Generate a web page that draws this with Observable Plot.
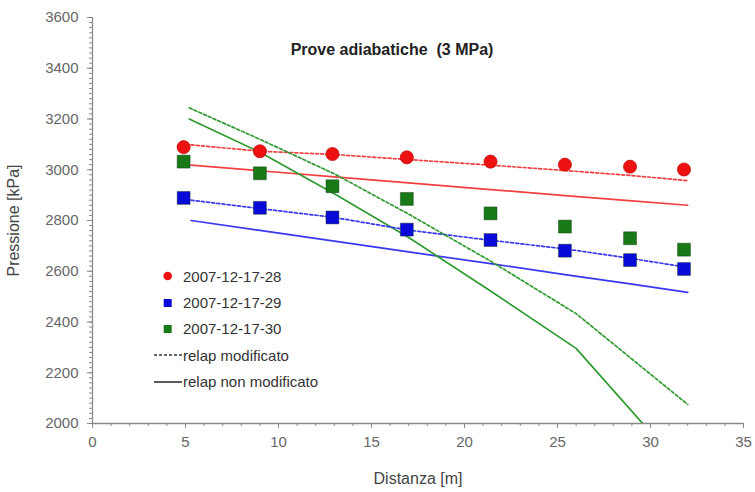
<!DOCTYPE html>
<html>
<head>
<meta charset="utf-8">
<script src="https://cdn.jsdelivr.net/npm/d3@7"></script>
<script src="https://cdn.jsdelivr.net/npm/@observablehq/plot@0.6"></script>
<style>
  body { margin: 0; background: #fff; }
  #grafico { position: relative; width: 755px; height: 492px; font-family: "Liberation Sans", Arial, sans-serif; }
  #titolo { position: absolute; left: 0; top: 41px; width: 784px; text-align: center; font-weight: bold;
            font-size: 16px; color: #222; white-space: pre; }
  #legenda { position: absolute; left: 150px; top: 263px; font-size: 15px; color: #333; }
  #legenda .voce { display: flex; align-items: center; height: 26.4px; }
  #legenda svg { width: 33px; height: 26px; flex: none; }
</style>
</head>
<body>
<div id="grafico">
  <div id="titolo"></div>
  <div id="legenda"></div>
</div>
<script>
// Prove adiabatiche a 3 MPa: pressione misurata lungo il condotto e calcoli RELAP
const titolo = "Prove adiabatiche  (3 MPa)";
const etichettaX = "Distanza [m]";
const etichettaY = "Pressione [kPa]";
const tickX = [0, 5, 10, 15, 20, 25, 30, 35];
const tickY = [2000, 2200, 2400, 2600, 2800, 3000, 3200, 3400, 3600];

// Misure sperimentali (posizione dei trasduttori)
const distanzaMisure = [4.9, 9.0, 12.9, 16.9, 21.4, 25.4, 28.9, 31.8];
const misure28 = [3089, 3073, 3062, 3049, 3032, 3020, 3012, 3001];
const misure29 = [2889, 2850, 2812, 2764, 2723, 2681, 2644, 2609];
const misure30 = [3032, 2986, 2935, 2885, 2828, 2776, 2730, 2685];

// Calcoli RELAP
const distanzaRelap = [5.3, 9, 13, 17, 21.4, 25.4, 29, 32];
const relapMod28 = [3098, 3073, 3060, 3040, 3018, 2997, 2977, 2957];
const relapMod29 = [2880, 2847, 2812, 2762, 2722, 2688, 2650, 2615];
const relapNonMod28 = [3018, 2996, 2972, 2948, 2922, 2898, 2877, 2860];
const relapNonMod29 = [2800, 2761, 2719, 2676, 2630, 2587, 2549, 2517];
const distanzaRelap30 = [5.2, 9, 13, 17, 21.4, 26, 32];
const relapMod30 = [3244, 3120, 2984, 2825, 2640, 2433, 2075];
const relapNonMod30 = [3200, 3069, 2905, 2733, 2522, 2296, 1800];

const prove = ["2007-12-17-28", "2007-12-17-29", "2007-12-17-30"];
const coloriPunti = ["#ee1111", "#0a0ad8", "#177a17"];
const coloriLinee = ["#f24040", "#3838ee", "#2f9a2f"];
const simboli = ["circle", "square", "square"];
const tipiLinea = ["relap modificato", "relap non modificato"];

const tabella = (xs, ys, i) => xs.map((x, k) => ({x, y: ys[k], i}));
const puntiMisura = [misure28, misure29, misure30].flatMap((ys, i) => tabella(distanzaMisure, ys, i));
const lineeMod = [
  tabella(distanzaRelap, relapMod28, 0),
  tabella(distanzaRelap, relapMod29, 1),
  tabella(distanzaRelap30, relapMod30, 2)
];
const lineeNonMod = [
  tabella(distanzaRelap, relapNonMod28, 0),
  tabella(distanzaRelap, relapNonMod29, 1),
  tabella(distanzaRelap30, relapNonMod30, 2)
];

const grigioAssi = "#8a8a8a";
const testoAssi = "#666";
const intero = d3.format("d");

const grafico = Plot.plot({
  width: 755,
  height: 492,
  marginLeft: 92,
  marginRight: 12,
  marginTop: 17,
  marginBottom: 69,
  style: {fontFamily: "Liberation Sans, Arial, sans-serif", fontSize: "15px", background: "transparent"},
  x: {domain: [0, 35]},
  y: {domain: [2000, 3600]},
  marks: [
    // tacche secondarie e principali
    Plot.axisX({ticks: d3.range(0, 36, 1), tickSize: 3, tickFormat: () => "", stroke: grigioAssi, label: null}),
    Plot.axisY({ticks: d3.range(2000, 3601, 20), tickSize: 3, tickFormat: () => "", stroke: grigioAssi, label: null}),
    Plot.axisX({ticks: tickX, tickSize: 5, tickPadding: 8, tickFormat: intero, stroke: grigioAssi, fill: testoAssi, label: null}),
    Plot.axisY({ticks: tickY, tickSize: 5, tickPadding: 9, tickFormat: intero, stroke: grigioAssi, fill: testoAssi, label: null}),
    Plot.ruleX([0], {stroke: grigioAssi, strokeWidth: 1.3}),
    Plot.ruleY([2000], {stroke: grigioAssi, strokeWidth: 1.3}),
    Plot.text([etichettaY], {frameAnchor: "left", dx: -79, rotate: -90, textAnchor: "middle", lineAnchor: "middle",
                              fontSize: 16, fill: "#444"}),
    Plot.text([etichettaX], {frameAnchor: "bottom", dy: 55, textAnchor: "middle", lineAnchor: "middle",
                             fontSize: 16, fill: "#444"}),
    // calcoli
    ...lineeNonMod.map(d => Plot.line(d, {x: "x", y: "y", stroke: coloriLinee[d[0].i], strokeWidth: 1.7, clip: true})),
    ...lineeMod.map(d => Plot.line(d, {x: "x", y: "y", stroke: coloriLinee[d[0].i], strokeWidth: 1.7,
                                      strokeDasharray: "3,2.2", clip: true})),
    // misure
    Plot.dot(puntiMisura.filter(d => simboli[d.i] === "circle"), {
      x: "x", y: "y", r: 6.6, symbol: "circle", fill: d => coloriPunti[d.i], stroke: "#b00000", strokeWidth: 0.6
    }),
    Plot.dot(puntiMisura.filter(d => simboli[d.i] === "square"), {
      x: "x", y: "y", r: 7.3, symbol: "square", fill: d => coloriPunti[d.i], stroke: "#0b2b0b", strokeOpacity: 0.5, strokeWidth: 0.8
    })
  ]
});
document.getElementById("grafico").prepend(grafico);
document.getElementById("titolo").textContent = titolo;

// legenda
const legenda = d3.select("#legenda");
prove.forEach((nome, i) => {
  const voce = legenda.append("div").attr("class", "voce");
  const s = voce.append("svg");
  if (simboli[i] === "circle") s.append("circle").attr("cx", 17.7).attr("cy", 13).attr("r", 4.3).attr("fill", coloriPunti[i]);
  else s.append("rect").attr("x", 13.7).attr("y", 9).attr("width", 8).attr("height", 8).attr("fill", coloriPunti[i]);
  voce.append("span").text(nome);
});
tipiLinea.forEach((nome, i) => {
  const voce = legenda.append("div").attr("class", "voce");
  voce.append("svg").append("line").attr("x1", 4).attr("x2", 32).attr("y1", 13).attr("y2", 13)
    .attr("stroke", "#333").attr("stroke-width", 1.6).attr("stroke-dasharray", i === 0 ? "3,2" : null);
  voce.append("span").text(nome);
});
</script>
</body>
</html>
